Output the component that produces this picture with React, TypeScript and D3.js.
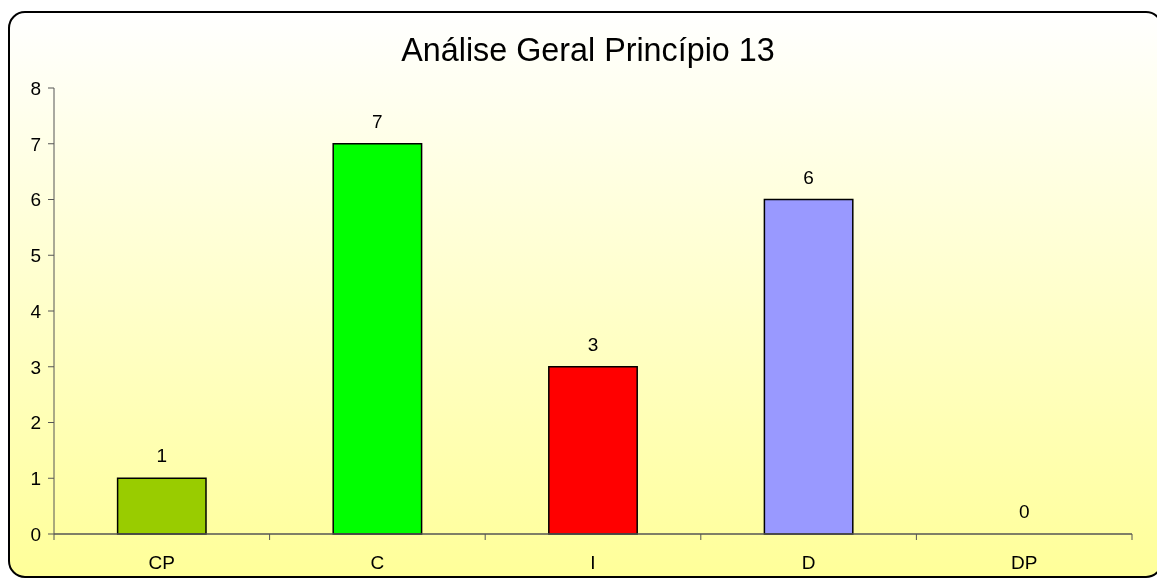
import React from "react";
import * as d3 from "d3";

const categories = ["CP", "C", "I", "D", "DP"];
const values = [1, 7, 3, 6, 0];
const barColors = ["#99CC00", "#00FF00", "#FF0000", "#9999FF", "#FFFF99"];
const yTicks = [0, 1, 2, 3, 4, 5, 6, 7, 8];
const title = "Análise Geral Princípio 13";

const W = 1157;
const H = 578;
const left = 54;
const right = 1132;
const top = 88;
const bottom = 534;
const font = "'Liberation Sans', Arial, sans-serif";
const fs = 19;

export default function App() {
  const x = d3.scaleBand<string>().domain(categories).range([left, right]).paddingInner(0.59).paddingOuter(0.295);
  const xb = d3.scaleBand<string>().domain(categories).range([left, right]);
  const y = d3.scaleLinear().domain([0, 8]).range([bottom, top]);
  const boundaries = d3.range(categories.length + 1).map((i) => left + i * xb.step());

  return (
    <div style={{ position: "fixed", left: 0, top: 0 }}>
      <svg width={W} height={H} style={{ display: "block" }}>
        <defs>
          <linearGradient id="bg" x1="0" y1="0" x2="0" y2="1">
            <stop offset="0" stopColor="#FFFFFF" />
            <stop offset="1" stopColor="#FFFF99" />
          </linearGradient>
        </defs>
        <rect x={9} y={12} width={1153} height={565} rx={16} ry={16} fill="url(#bg)" stroke="#000" strokeWidth={2} />
        <text x={588} y={61} textAnchor="middle" fontFamily={font} fontSize={32.3} fill="#000">
          {title}
        </text>
        {/* y axis */}
        <line x1={left} x2={left} y1={top} y2={bottom} stroke="#555" strokeWidth={1} />
        {yTicks.map((t) => (
          <g key={t}>
            <line x1={left - 6} x2={left} y1={y(t)} y2={y(t)} stroke="#555" />
            <text x={41} y={y(t)} dy="0.36em" textAnchor="end" fontFamily={font} fontSize={fs} fill="#000">
              {t}
            </text>
          </g>
        ))}
        {/* bars */}
        {categories.map((c, i) =>
          values[i] > 0 ? (
            <rect
              key={c}
              x={x(c)}
              y={y(values[i])}
              width={x.bandwidth()}
              height={y(0) - y(values[i])}
              fill={barColors[i]}
              stroke="#000"
              strokeWidth={1.5}
            />
          ) : null
        )}
        {categories.map((c, i) => (
          <text
            key={c + "v"}
            x={xb(c)! + xb.bandwidth() / 2}
            y={y(values[i]) - 16}
            textAnchor="middle"
            fontFamily={font}
            fontSize={fs}
            fill="#000"
          >
            {values[i]}
          </text>
        ))}
        {/* x axis */}
        <line x1={left} x2={right} y1={bottom} y2={bottom} stroke="#555" strokeWidth={1.5} />
        {boundaries.map((b, i) => (
          <line key={i} x1={b} x2={b} y1={bottom} y2={bottom + 6} stroke="#555" />
        ))}
        {categories.map((c) => (
          <text
            key={c + "l"}
            x={xb(c)! + xb.bandwidth() / 2}
            y={569}
            textAnchor="middle"
            fontFamily={font}
            fontSize={fs}
            fill="#000"
          >
            {c}
          </text>
        ))}
      </svg>
    </div>
  );
}
